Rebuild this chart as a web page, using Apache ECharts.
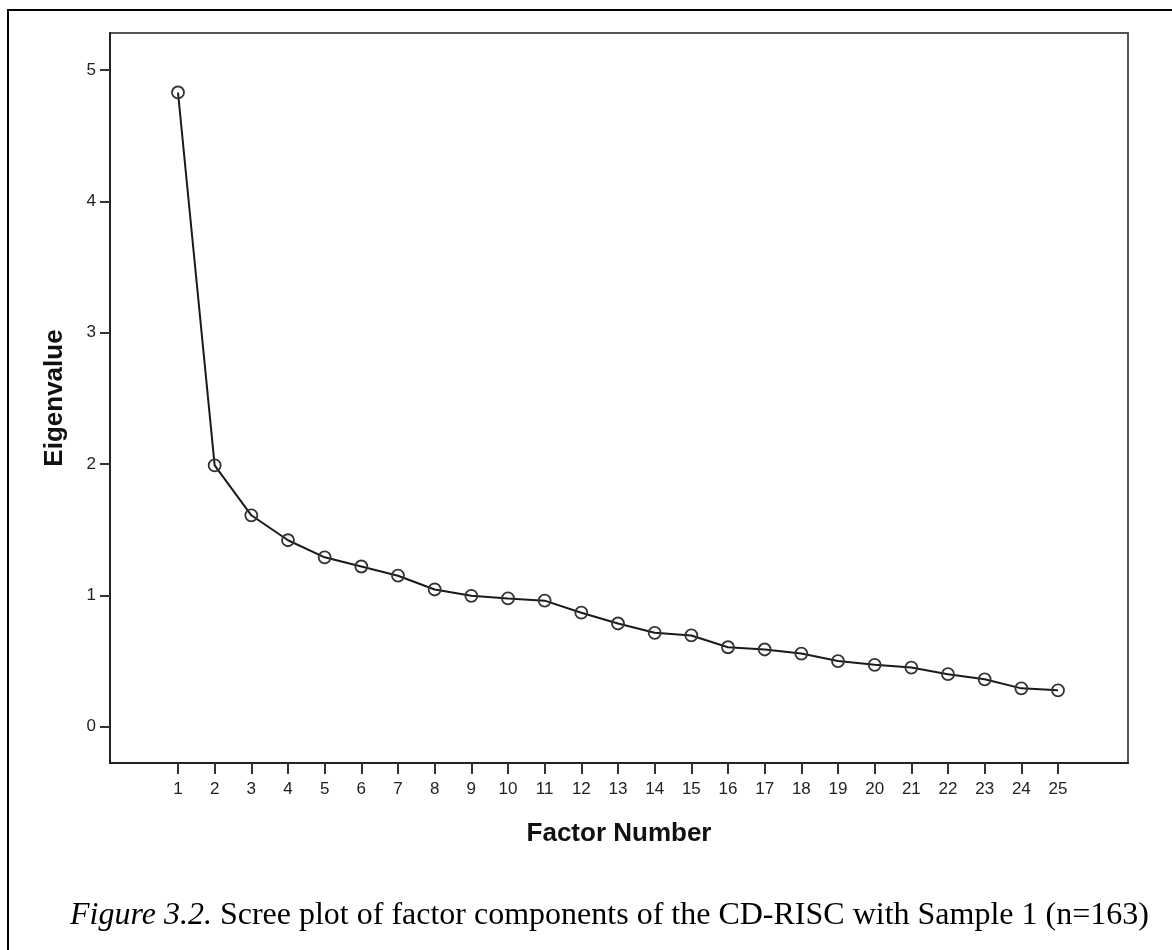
<!DOCTYPE html>
<html>
<head>
<meta charset="utf-8">
<script src="https://cdn.jsdelivr.net/npm/echarts@6/dist/echarts.min.js"></script>
<style>
  html, body { margin: 0; padding: 0; background: #fff; }
  #chart { width: 1172px; height: 950px; }
</style>
</head>
<body>
<div id="chart"></div>
<script>
const factorNumbers = [1,2,3,4,5,6,7,8,9,10,11,12,13,14,15,16,17,18,19,20,21,22,23,24,25];
const eigenvalues = [4.83, 1.99, 1.61, 1.42, 1.29, 1.22, 1.15, 1.045, 0.997, 0.977, 0.96, 0.868, 0.786, 0.715, 0.695, 0.605, 0.588, 0.557, 0.50, 0.471, 0.45, 0.40, 0.361, 0.292, 0.277];
const yTickValues = [0, 1, 2, 3, 4, 5];
const xAxisTitle = 'Factor Number';
const yAxisTitle = 'Eigenvalue';
const captionItalic = 'Figure 3.2.';
const captionRest = ' Scree plot of factor components of the CD-RISC with Sample 1 (n=163)';

const chart = echarts.init(document.getElementById('chart'), null, { renderer: 'canvas' });
const sansFont = '"Liberation Sans", Arial, sans-serif';
const serifFont = '"Liberation Serif", "Times New Roman", serif';

const option = {
  backgroundColor: '#fff',
  animation: false,
  grid: {
    left: 110, top: 33, right: 44, bottom: 187,
    show: true, borderColor: '#555', borderWidth: 2, backgroundColor: 'transparent'
  },
  xAxis: {
    type: 'value',
    min: -0.8545, max: 26.909,
    name: xAxisTitle,
    nameLocation: 'middle',
    nameGap: 58,
    nameTextStyle: { fontFamily: sansFont, fontWeight: 'bold', fontSize: 26, color: '#111' },
    axisLine: { show: true, onZero: false, lineStyle: { color: '#222', width: 2 } },
    axisTick: { show: true, inside: false, length: 11, customValues: factorNumbers, lineStyle: { color: '#333', width: 2 } },
    axisLabel: { customValues: factorNumbers, margin: 18, fontFamily: sansFont, fontSize: 17, color: '#222' },
    splitLine: { show: false }
  },
  yAxis: {
    type: 'value',
    min: -0.2765, max: 5.283,
    name: yAxisTitle,
    nameLocation: 'middle',
    nameGap: 42,
    nameTextStyle: { fontFamily: sansFont, fontWeight: 'bold', fontSize: 26, color: '#111' },
    axisLine: { show: true, onZero: false, lineStyle: { color: '#222', width: 2 } },
    axisTick: { show: true, inside: false, length: 10, customValues: yTickValues, lineStyle: { color: '#333', width: 2 } },
    axisLabel: { customValues: yTickValues, margin: 14, fontFamily: sansFont, fontSize: 17, color: '#222' },
    splitLine: { show: false }
  },
  series: [{
    type: 'line',
    data: factorNumbers.map((f, i) => [f, eigenvalues[i]]),
    symbol: 'circle',
    symbolSize: 12,
    showAllSymbol: true,
    lineStyle: { color: '#1a1a1a', width: 2 },
    itemStyle: { color: 'rgba(0,0,0,0)', borderColor: '#333', borderWidth: 1.8 },
    emphasis: { disabled: true },
    z: 3
  }],
  graphic: [
    {
      type: 'rect',
      shape: { x: 8, y: 10, width: 1250, height: 1050 },
      style: { fill: 'none', stroke: '#000', lineWidth: 2 },
      silent: true
    },
    {
      type: 'text',
      x: 70, y: 916,
      style: {
        text: '{i|' + captionItalic + '}{r|' + captionRest + '}',
        verticalAlign: 'middle',
        rich: {
          i: { fontFamily: serifFont, fontStyle: 'italic', fontSize: 32, fill: '#000' },
          r: { fontFamily: serifFont, fontSize: 32, fill: '#000' }
        }
      },
      silent: true
    }
  ]
};
chart.setOption(option);
</script>
</body>
</html>
